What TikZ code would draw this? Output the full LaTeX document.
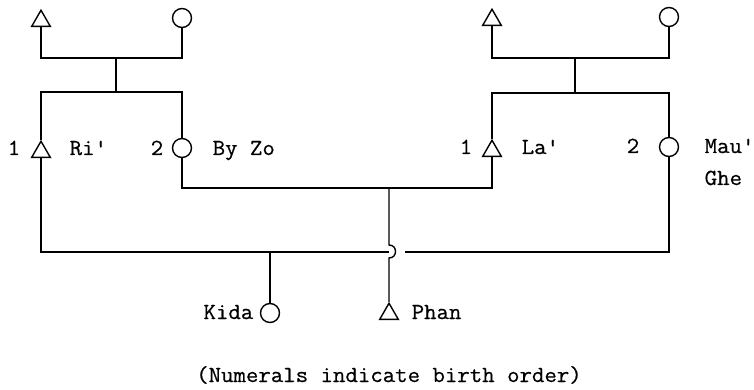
\documentclass[tikz,border=0pt]{standalone}
\usepackage{fontspec}
\newfontfamily\twfont{Latin Modern Mono}[FakeStretch=1.05,FakeBold=0.6]
\usetikzlibrary{shapes.geometric}
\begin{document}
\begin{tikzpicture}[x=1pt,y=-1pt,
  line width=1.4pt,
  male/.style={draw, regular polygon, regular polygon sides=3, minimum size=21.5pt, inner sep=0pt},
  female/.style={draw, circle, minimum size=19pt, inner sep=0pt},
  lbl/.style={font=\twfont\fontsize{23}{26}\selectfont, inner sep=0pt}]
\useasboundingbox (0,0) rectangle (754,390);
% people
\node[male] (glm) at (41,21) {};
\node[female] (glf) at (182,18) {};
\node[male] (grm) at (492,20) {};
\node[female] (grf) at (669,17) {};
\node[male] (ri) at (41,152) {};
\node[female] (byzo) at (182,148) {};
\node[male] (la) at (492,151) {};
\node[female] (mau) at (669,147) {};
\node[female] (kida) at (270,313) {};
\node[male] (phan) at (389,314) {};
% junctions
\coordinate (lm) at (116,58);
\coordinate (ls) at (116,92);
\coordinate (rm) at (575,58);
\coordinate (rs) at (575,93);
\coordinate (mid) at (389,188);
\coordinate (hopt) at (389,245);
\coordinate (hopb) at (389,258);
\coordinate (kd) at (270,252);
\coordinate (hopl) at (389,252);
\coordinate (hopr) at (405,252);
% connectors
\draw (glm.south) |- (lm) -| (glf.south);
\draw (lm) -- (ls);
\draw (ri.north) |- (ls) -| (byzo.north);
\draw (grm.south) |- (rm) -| (grf.south);
\draw (rm) -- (rs);
\draw (la.north) |- (rs) -| (mau.north);
\draw (byzo.south) |- (mid) -| (la.south);
\draw (mid) -- (hopt) .. controls (397.7,245) and (397.7,258) .. (hopb) -- (phan.north);
\draw (ri.south) |- (kd) -- (hopl);
\draw (kd) -- (kida.north);
\draw (hopr) -| (mau.south);
% labels
\node[lbl, anchor=base] (n1) at (14,155) {1};
\node[lbl, anchor=base west] (tri) at (69,155) {Ri'};
\node[lbl, anchor=base] (n2) at (157,155) {2};
\node[lbl, anchor=base west] (tby) at (212,155) {By Zo};
\node[lbl, anchor=base] (n3) at (466,154) {1};
\node[lbl, anchor=base west] (tla) at (521,154) {La'};
\node[lbl, anchor=base] (n4) at (633,153) {2};
\node[lbl, anchor=base west] (tmau) at (704,153) {Mau'};
\node[lbl, anchor=base west] (tghe) at (704,185) {Ghe};
\node[lbl, anchor=base east] (tkida) at (254,319) {Kida};
\node[lbl, anchor=base west] (tphan) at (411,319) {Phan};
\node[lbl, anchor=base] (cap) at (389,382) {(Numerals indicate birth order)};
\end{tikzpicture}
\end{document}
